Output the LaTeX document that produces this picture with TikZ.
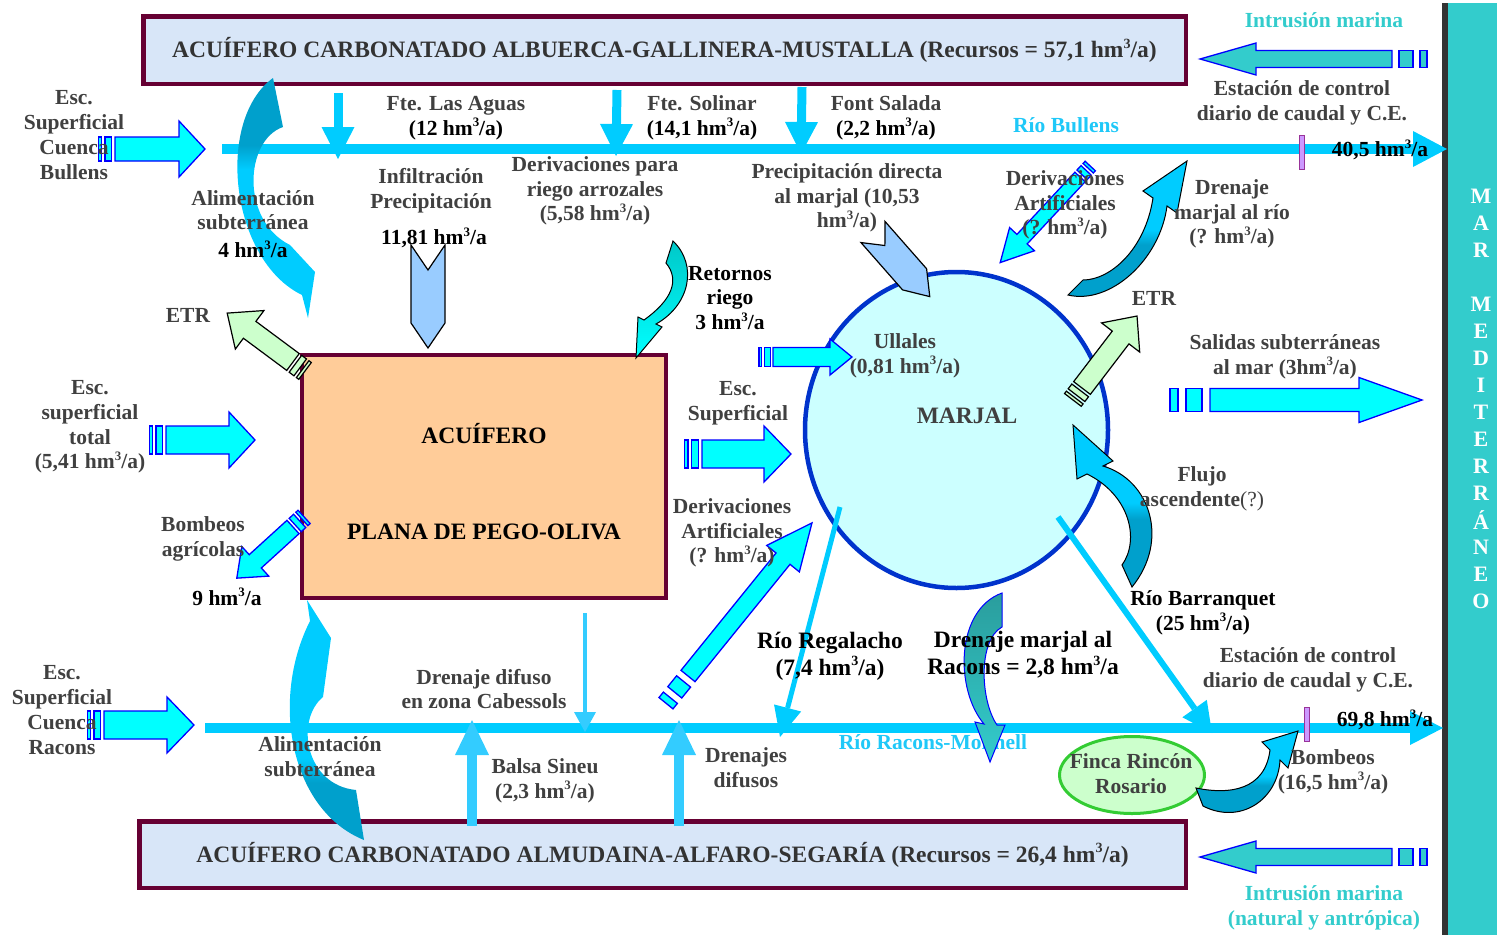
\documentclass[tikz,border=0pt]{standalone}
\usepackage{fontspec}
\usepackage{graphicx}
\setmainfont{Liberation Serif}
\usetikzlibrary{calc,shapes.geometric}
\definecolor{txtgray}{HTML}{404040}
\definecolor{titlegray}{HTML}{333333}
\definecolor{riverc}{HTML}{00CCFF}
\definecolor{riverl}{HTML}{33CCFF}
\definecolor{rivtext}{HTML}{1FC8F8}
\definecolor{cyanf}{HTML}{00FFFF}
\definecolor{bluel}{HTML}{0000FF}
\definecolor{tealc}{HTML}{33CCCC}
\definecolor{maroon}{HTML}{660033}
\definecolor{boxblue}{HTML}{D8E6F8}
\definecolor{orangef}{HTML}{FFCC99}
\definecolor{marjalf}{HTML}{CCFFFF}
\definecolor{marjald}{HTML}{0033CC}
\definecolor{greenf}{HTML}{CCFFCC}
\definecolor{greend}{HTML}{33CC33}
\definecolor{chevf}{HTML}{99CCFF}
\definecolor{darkteal}{HTML}{00A0CC}
\definecolor{violetf}{HTML}{CC99FF}
\definecolor{violetd}{HTML}{993399}
\definecolor{seagray}{HTML}{333333}
\definecolor{dteal2}{HTML}{2A9D9D}
\definecolor{retc}{HTML}{00C8C8}

\pgfdeclareverticalshading{dkTop}{100bp}{color(0bp)=(riverc); color(56bp)=(riverc); color(61bp)=(darkteal); color(100bp)=(darkteal)}
\pgfdeclareverticalshading{dkBot}{100bp}{color(0bp)=(darkteal); color(37bp)=(darkteal); color(42bp)=(riverc); color(100bp)=(riverc)}
\pgfdeclareverticalshading{dkBotB}{100bp}{color(0bp)=(darkteal); color(46bp)=(darkteal); color(51bp)=(riverc); color(100bp)=(riverc)}

\newcommand{\lblfont}{\fontsize{21.5}{24.8}\selectfont\bfseries}
\newcommand{\bigfont}{\fontsize{23.5}{27}\selectfont\bfseries}
\newcommand{\seafont}{\fontsize{22}{22}\selectfont\bfseries}
\newcommand{\cubo}{\raisebox{0.40em}{\scalebox{0.6}{3}}}
\newcommand{\hmc}{hm\cubo/a}

% block arrow: #1 name, #2 tail, #3 angle, #4 length, #5 shaft hw, #6 head hw, #7 head len, #8 stripe unit, #9 style
\newcommand{\blockarr}[9]{%
  \begin{scope}[shift={#2},rotate=#3]
    \path[#9] (0,-#5) -- ({#4-#7},-#5) -- ({#4-#7},-#6) -- (#4,0) -- ({#4-#7},#6) -- ({#4-#7},#5) -- (0,#5) -- cycle;
    \path[#9] ({-#8},-#5) rectangle ({-3*#8},#5);
    \path[#9] ({-4*#8},-#5) rectangle ({-5*#8},#5);
    \coordinate (#1) at (#4,0);
  \end{scope}}
% chevron arrow: #1 name, #2 tail, #3 angle, #4 length, #5 hw, #6 point len, #7 notch
\newcommand{\chevarr}[7]{%
  \begin{scope}[shift={#2},rotate=#3]
    \path[chev] (0,-#5) -- ({#4-#6},-#5) -- (#4,0) -- ({#4-#6},#5) -- (0,#5) -- (#7,0) -- cycle;
    \coordinate (#1) at (#4,0);
  \end{scope}}
% line arrow: #1 start, #2 tip, #3 line width, #4 head len, #5 head hw, #6 colour
\newcommand{\linearr}[6]{%
  \coordinate (hb) at ($(#2)!#4!(#1)$);
  \draw[#6, line width=#3] (#1) -- (hb);
  \fill[#6] ($(hb)!#5!90:(#2)$) -- (#2) -- ($(hb)!#5!-90:(#2)$) -- cycle;}

\tikzset{
  lbl/.style={font=\lblfont, text=txtgray, align=center, inner sep=0pt},
  lblk/.style={lbl, text=black},
  bigl/.style={font=\bigfont, text=txtgray, align=center, inner sep=0pt},
  bigk/.style={bigl, text=black},
  cyanA/.style={fill=cyanf, draw=bluel, line width=1.3pt},
  tealA/.style={fill=tealc, draw=bluel, line width=1.3pt},
  greenA/.style={fill=greenf, draw=black, line width=1.2pt},
  chev/.style={fill=chevf, draw=black, line width=1.2pt},
  acbox/.style={draw=maroon, line width=4.5pt, fill=boxblue, inner sep=0pt, font=\bigfont, text=titlegray},
  tick/.style={draw=violetd, fill=violetf, line width=1pt, minimum width=5pt, minimum height=34pt, inner sep=0pt},
}

\begin{document}
\begin{tikzpicture}[x=1pt,y=-1pt]
\useasboundingbox (0,0) rectangle (1497,935);

% sea
\fill[seagray] (1442,3) rectangle (1497,935);
\fill[tealc] (1448,3) rectangle (1497,935);
\foreach \ch [count=\i from 0] in {M,A,R,{},M,E,D,I,T,E,R,R,Á,N,E,O}
  \node[font=\seafont, text=white, inner sep=0pt] (sea\i) at (1481,{196+27*\i}) {\ch};

% boxes
\node[acbox, minimum width=1042.5pt, minimum height=67.5pt] (topbox) at (664.5,50)
  {ACUÍFERO CARBONATADO ALBUERCA-GALLINERA-MUSTALLA (Recursos = 57,1 \hmc)};
\node[acbox, minimum width=1046.5pt, minimum height=66.5pt] (botbox) at (662.5,854.5)
  {ACUÍFERO CARBONATADO ALMUDAINA-ALFARO-SEGARÍA (Recursos = 26,4 \hmc)};
\node[draw=maroon, line width=4pt, fill=orangef, minimum width=364pt, minimum height=243pt, inner sep=0pt] (acuif) at (484,476.5) {};
\node[ellipse, draw=marjald, line width=4.5pt, fill=marjalf, minimum width=303pt, minimum height=316pt, inner sep=0pt] (marjal) at (956.5,430) {};
\node[ellipse, draw=greend, line width=3pt, fill=greenf, minimum width=145pt, minimum height=77pt, inner sep=0pt] (finca) at (1132,775) {};

% coordinates for rivers and line arrows
\coordinate (bulS) at (222,149); \coordinate (bulT) at (1447,149);
\coordinate (racS) at (205,728); \coordinate (racT) at (1443,728);
\coordinate (lasS) at (338,93);  \coordinate (lasT) at (338,159);
\coordinate (solS) at (617,90);  \coordinate (solT) at (616,156);
\coordinate (salS) at (802,87);  \coordinate (salT) at (801,154);
\coordinate (balS) at (472,826); \coordinate (balT) at (472,720);
\coordinate (difS) at (679,826); \coordinate (difT) at (679,720);
\coordinate (cabS) at (585,613); \coordinate (cabT) at (585,732);
\coordinate (regS) at (840,507); \coordinate (regT) at (780,737);
\coordinate (barS) at (1058,517); \coordinate (barT) at (1212,733);

\linearr{bulS}{bulT}{10pt}{34pt}{18pt}{riverc}
\linearr{racS}{racT}{10pt}{33pt}{17pt}{riverc}
\linearr{lasS}{lasT}{9pt}{32pt}{16.5pt}{riverc}
\linearr{solS}{solT}{9pt}{32pt}{16.5pt}{riverc}
\linearr{salS}{salT}{9pt}{32pt}{16.5pt}{riverc}
\linearr{balS}{balT}{9.5pt}{35pt}{17pt}{riverl}
\linearr{difS}{difT}{9.5pt}{35pt}{17pt}{riverl}
\linearr{cabS}{cabT}{4pt}{20pt}{11pt}{riverl}
\linearr{regS}{regT}{5pt}{30pt}{14pt}{riverc}
\linearr{barS}{barT}{6pt}{30pt}{15pt}{riverc}

% block arrows
\blockarr{aBul}{(115,149)}{0}{90}{12}{28}{26}{3.3}{cyanA}
\blockarr{aTot}{(166,440)}{0}{89}{14}{28}{26}{3.3}{cyanA}
\blockarr{aEsc}{(702,454)}{0}{89}{14}{28}{27}{3.5}{cyanA}
\blockarr{aUll}{(773,357)}{0}{79}{9.5}{18}{22}{2.8}{cyanA}
\blockarr{aSal}{(1210,400)}{0}{212}{11.5}{22.5}{63}{8}{cyanA}
\blockarr{aRac}{(104,725)}{0}{90}{14}{28}{27}{3.3}{cyanA}
\blockarr{aBomA}{(293,527)}{222.3}{76}{9}{20}{25}{3}{cyanA}
\blockarr{aDA2}{(688,676)}{51}{197}{9}{21}{46}{7}{cyanA}
\blockarr{aDA1}{(1080,177)}{227}{117}{7}{17}{32}{3}{cyanA}
\blockarr{aETR2}{(1082,388)}{52.6}{90.6}{10.5}{24}{27}{3}{greenA}
\blockarr{aETR1}{(293,362)}{143.4}{82}{10.5}{24}{28}{3}{greenA}
\blockarr{aInt1}{(1392,59)}{180}{192}{8.5}{16}{56}{7}{tealA}
\blockarr{aInt2}{(1392,857)}{180}{192}{8.5}{16}{56}{7}{tealA}

% chevrons
\chevarr{cInf}{(428,245)}{-90}{103}{17}{25}{25}
\chevarr{cPre}{(873,232)}{-48.7}{86}{16}{23}{18}

% curved arrows
\path[shading=dkTop] (273,78) -- (283,127) .. controls (245,140) and (240,220) .. (290,245)
  -- (315,272) -- (308,318) -- (302,295) .. controls (230,260) and (215,120) .. (273,78) -- cycle;
\path[shading=dkBot] (364,840) .. controls (290,810) and (270,700) .. (310,621) -- (307,600)
  -- (331,638) -- (323,697) .. controls (295,720) and (305,785) .. (356,790) -- cycle;
\path[top color=retc, bottom color=cyanf, draw=black, line width=1pt] (666,263) -- (673,241)
  .. controls (698,265) and (690,305) .. (656,324) -- (662,327) -- (636,358) -- (638,317) -- (644,320)
  .. controls (672,300) and (680,280) .. (666,263) -- cycle;
\path[shading=dkBotB, draw=black, line width=1pt] (1068,295) .. controls (1110,305) and (1160,260) .. (1167,206)
  -- (1177,213) -- (1187,161) -- (1143,191) -- (1153,198) .. controls (1145,250) and (1110,280) .. (1083,280) -- cycle;
\path[shading=dkBotB, draw=black, line width=1pt] (1122,565) -- (1132,587) .. controls (1170,540) and (1150,480) .. (1103,466)
  -- (1113,461) -- (1073,425) -- (1077,479) -- (1087,474) .. controls (1130,495) and (1140,540) .. (1122,565) -- cycle;
\node[lbl, text=rivtext] (lRR) at (933,742) {Río Racons-Molinell};
\path[top color=dteal2, bottom color=tealc, draw=bluel, line width=1pt] (1002,593) -- (1002,627)
  .. controls (978,640) and (980,700) .. (997,725) -- (1005,725) -- (990,762) -- (975,722) -- (984,724)
  .. controls (955,690) and (955,610) .. (1002,593) -- cycle;
\path[shading=dkBotB, draw=black, line width=1pt] (1196,788) -- (1203,806) .. controls (1240,825) and (1278,800) .. (1280,760)
  -- (1288,768) -- (1298,731) -- (1262,742) -- (1270,750) .. controls (1265,790) and (1230,795) .. (1196,788) -- cycle;

% ticks
\node[tick] (tick1) at (1302,152) {};
\node[tick] (tick2) at (1307,724) {};

% labels
\node[lbl] (lBul) at (74,135) {Esc.\\Superficial\\Cuenca\\Bullens};
\node[lbl] (lLas) at (456,118) {Fte. Las Aguas\\\textcolor{black}{(12 \hmc)}};
\node[lbl] (lSol) at (702,118) {Fte. Solinar\\\textcolor{black}{(14,1 \hmc)}};
\node[lbl] (lSal) at (886,118) {Font Salada\\\textcolor{black}{(2,2 \hmc)}};
\node[lbl] (lAli1) at (253,224) {Alimentación\\subterránea\\[3pt]\textcolor{black}{4 \hmc}};
\node[lbl] (lInf) at (431,191) {Infiltración\\Precipitación};
\node[lblk] (lInfV) at (434,238) {11,81 \hmc};
\node[lbl] (lDer) at (595,191) {Derivaciones para\\riego arrozales\\(5,58 \hmc)};
\node[lbl] (lPre) at (847,198) {Precipitación directa\\al marjal (10,53\\\hmc)};
\node[lbl, text=rivtext] (lRB) at (1066,125) {Río Bullens};
\node[lbl] (lEst1) at (1302,103) {Estación de control\\diario de caudal y C.E.};
\node[lblk] (l405) at (1380,150) {40,5 \hmc};
\node[lbl, text=tealc] (lInt1) at (1324,20) {Intrusión marina};
\node[lbl] (lDA1) at (1065,205) {Derivaciones\\Artificiales\\(? \hmc)};
\node[lbl] (lDR) at (1232,214) {Drenaje\\marjal al río\\(? \hmc)};
\node[lbl] (lETR1) at (188,315) {ETR};
\node[lbl] (lETR2) at (1154,298) {ETR};
\node[lblk] (lRet) at (730,298) {Retornos\\riego\\3 \hmc};
\node[lbl] (lUll) at (905,356) {Ullales\\(0,81 \hmc)};
\node[bigl] (lMar) at (967,416) {MARJAL};
\node[lbl] (lSalid) at (1285,357) {Salidas subterráneas\\al mar (3hm\cubo/a)};
\node[lbl] (lEscT) at (90,427) {Esc.\\superficial\\total\\(5,41 \hmc)};
\node[bigk] (lAcu) at (484,434) {ACUÍFERO};
\node[bigk] (lPego) at (484,532) {PLANA DE PEGO-OLIVA};
\node[lbl] (lEscS) at (738,403) {Esc.\\Superficial};
\node[lbl] (lFlu) at (1202,489) {Flujo\\ascendente{\mdseries(?)}};
\node[lbl] (lDA2) at (732,533) {Derivaciones\\Artificiales\\(? \hmc)};
\node[lbl] (lBomA) at (203,539) {Bombeos\\agrícolas};
\node[lblk] (l9) at (227,597) {9 \hmc};
\node[lblk] (lBar) at (1203,613) {Río Barranquet\\(25 \hmc)};
\node[bigk] (lReg) at (830,656) {Río Regalacho\\(7,4 \hmc)};
\node[bigk] (lDMR) at (1023,655) {Drenaje marjal al\\Racons = 2,8 \hmc};
\node[lbl] (lEst2) at (1308,670) {Estación de control\\diario de caudal y C.E.};
\node[lblk] (l698) at (1385,720) {69,8 \hmc};
\node[lbl] (lRac) at (62,710) {Esc.\\Superficial\\Cuenca\\Racons};
\node[lbl] (lCab) at (484,689) {Drenaje difuso\\en zona Cabessols};
\node[lbl] (lAli2) at (320,757) {Alimentación\\subterránea};
\node[lbl] (lBal) at (545,781) {Balsa Sineu\\(2,3 \hmc)};
\node[lbl] (lDd) at (746,768) {Drenajes\\difusos};
\node[lbl] (lFin) at (1131,774) {Finca Rincón\\Rosario};
\node[lbl] (lBom) at (1333,772) {Bombeos\\(16,5 \hmc)};
\node[lbl, text=tealc] (lInt2) at (1324,908) {Intrusión marina\\(natural y antrópica)};
\end{tikzpicture}
\end{document}
